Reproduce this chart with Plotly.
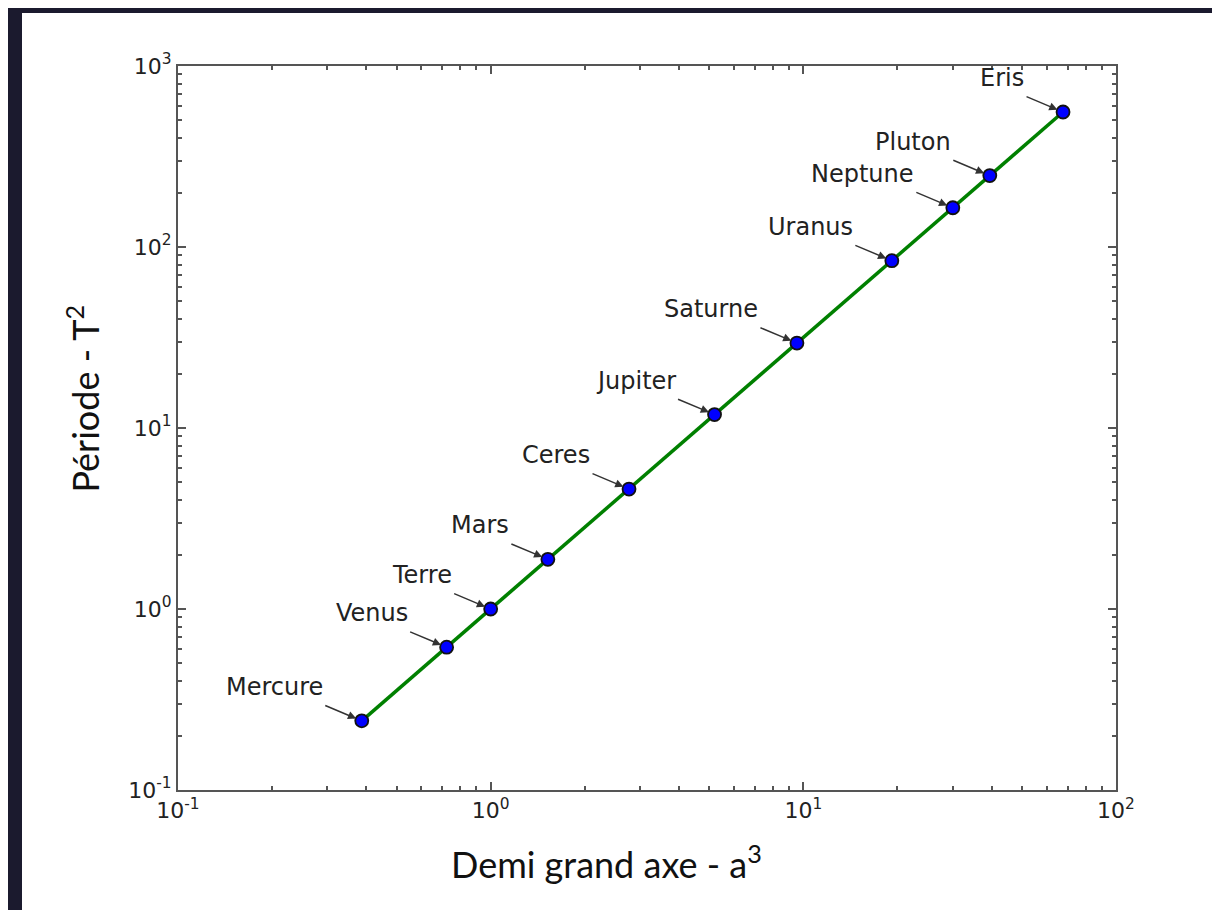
import numpy as np
import plotly.graph_objects as go

planets = ["Mercure", "Venus", "Terre", "Mars", "Ceres", "Jupiter", "Saturne",
           "Uranus", "Neptune", "Pluton", "Eris"]
semi_major_axis = [0.387, 0.723, 1.0, 1.524, 2.77, 5.20, 9.54, 19.19, 30.07, 39.48, 67.7]
period = [0.241, 0.615, 1.0, 1.881, 4.60, 11.86, 29.46, 84.0, 164.8, 248.0, 557.0]

x_ticks = [0.1, 1, 10, 100]
x_ticktext = ["10<sup>-1</sup>", "10<sup>0</sup>", "10<sup>1</sup>", "10<sup>2</sup>"]
y_ticks = [0.1, 1, 10, 100, 1000]
y_ticktext = ["10<sup>-1</sup>", "10<sup>0</sup>", "10<sup>1</sup>", "10<sup>2</sup>", "10<sup>3</sup>"]

x_title = "Demi grand axe - a<sup>3</sup>"
y_title = "Période - T<sup>2</sup>"

x_minor = [m * 10.0 ** d for d in range(-1, 2) for m in range(2, 10)]
y_minor = [m * 10.0 ** d for d in range(-1, 3) for m in range(2, 10)]

BG_DARK = "#1b1a2e"
TXT = "#222222"
AXC = "#555555"

fig = go.Figure()
fig.add_trace(go.Scatter(
    x=semi_major_axis, y=period, mode="lines+markers",
    line=dict(color="#008000", width=3.5),
    marker=dict(color="#0000ff", size=13, line=dict(color="#111111", width=1.8)),
    showlegend=False, hoverinfo="skip",
))

annotations = []
for name, a, t in zip(planets, semi_major_axis, period):
    annotations.append(dict(
        x=np.log10(a), y=np.log10(t), xref="x", yref="y",
        text="", showarrow=True, ax=-38, ay=-16, axref="pixel", ayref="pixel",
        arrowhead=2, arrowsize=1.1, arrowwidth=1.5, arrowcolor="#333333", standoff=6,
    ))
    annotations.append(dict(
        x=np.log10(a), y=np.log10(t), xref="x", yref="y",
        text=name, showarrow=False, xanchor="right", yanchor="middle",
        xshift=-37, yshift=34,
        font=dict(family="DejaVu Sans", size=24, color=TXT),
    ))

annotations.append(dict(
    x=(598 - 170) / 938, y=-0.10, xref="paper", yref="paper",
    text=x_title, showarrow=False, xanchor="center", yanchor="middle",
    font=dict(family="Lato", size=36, color="#111111"),
))
annotations.append(dict(
    x=-0.101, y=0.541, xref="paper", yref="paper",
    text=y_title, showarrow=False, xanchor="center", yanchor="middle", textangle=-90,
    font=dict(family="Lato", size=36, color="#111111"),
))

axis_common = dict(
    type="log", showgrid=False, zeroline=False,
    showline=True, linecolor=AXC, linewidth=2, mirror="allticks",
    ticks="inside", ticklen=8, tickwidth=1.5, tickcolor=AXC,
    tickfont=dict(family="DejaVu Sans", size=22, color=TXT),
)

fig.update_xaxes(
    **axis_common, range=[-1, 2], tickmode="array", tickvals=x_ticks, ticktext=x_ticktext,
    minor=dict(ticks="inside", ticklen=4, tickwidth=1.5, tickcolor=AXC, tickvals=x_minor),
)
fig.update_yaxes(
    **axis_common, range=[-1, 3], tickmode="array", tickvals=y_ticks, ticktext=y_ticktext,
    minor=dict(ticks="inside", ticklen=4, tickwidth=1.5, tickcolor=AXC, tickvals=y_minor),
)

fig.update_layout(
    width=1220, height=910,
    margin=dict(l=170, r=112, t=58, b=128),
    paper_bgcolor=BG_DARK, plot_bgcolor="white",
    annotations=annotations,
    shapes=[dict(type="rect", xref="paper", yref="paper",
                 x0=-(170 - 14) / 938, x1=(1220 - 170) / 938,
                 y0=-128 / 724, y1=1 + (58 - 5) / 724,
                 fillcolor="white", line=dict(width=0), layer="below")],
)

fig.write_html("out.html")
